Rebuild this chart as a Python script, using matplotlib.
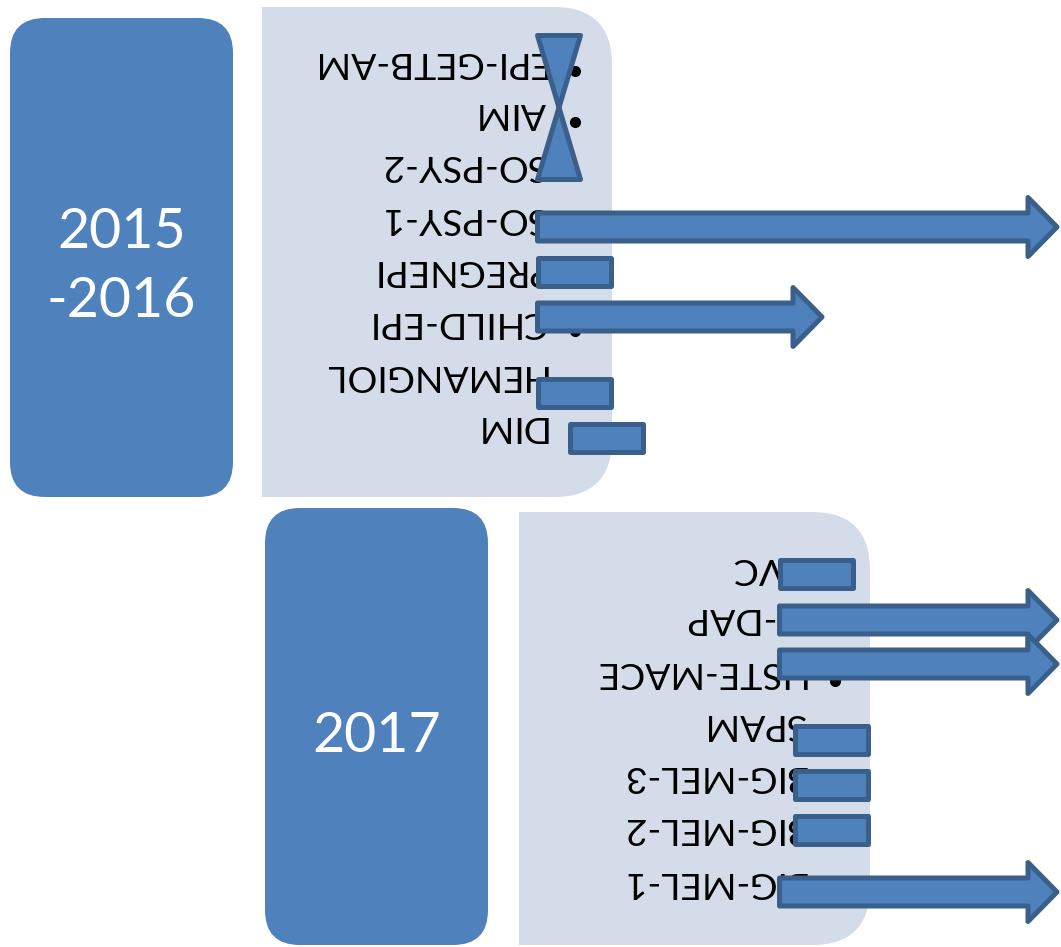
import matplotlib
matplotlib.use("Agg")
import matplotlib.pyplot as plt
from matplotlib.patches import FancyBboxPatch, Rectangle, Polygon

plt.rcParams['font.family'] = ['Lato', 'DejaVu Sans']

# year blocks
year_labels = ["2015\n-2016", "2017"]

# upper block (2015-2016)
upper_labels = ["EPI-GETB-AM", "AIM", "SO-PSY-2", "SO-PSY-1", "PREGNEPI",
                "CHILD-EPI", "HEMANGIOL", "DIM"]
upper_label_y = [66, 117, 169, 222, 274, 326, 379, 430]
upper_kind = ["arrow", "bar", "arrow", "bar", "bar"]
upper_start = [535, 535, 535, 535, 567]
upper_end = [1060, 613, 825, 613, 645]
upper_mark_y = [227, 272, 317, 393, 438]
hourglass_x = [535, 583]
hourglass_y = [33, 182]

# lower block (2017)
lower_labels = ["CVC", "M-DAP", "LISTE-MACE", "SPAM", "BIG-MEL-3",
                "BIG-MEL-2", "BIG-MEL-1"]
lower_label_y = [572, 622, 676, 728, 780, 832, 886]
lower_kind = ["bar", "arrow", "arrow", "bar", "bar", "bar", "arrow"]
lower_start = [777, 777, 777, 792, 792, 792, 777]
lower_end = [855, 1060, 1060, 870, 870, 870, 1060]
lower_mark_y = [574, 620, 664, 740, 785, 830, 892]

DARK = "#4F81BD"
EDGE = "#3A5F8B"
LIGHT = "#D4DCE9"
LW = 3.6

fig = plt.figure(figsize=(10.61, 9.47), dpi=100)
ax = fig.add_axes([0, 0, 1, 1])
ax.set_xlim(0, 1061)
ax.set_ylim(947, 0)
ax.axis("off")


def dark_box(x0, y0, x1, y1, text, ty):
    ax.add_patch(FancyBboxPatch((x0, y0), x1 - x0, y1 - y0,
                                boxstyle="round,pad=0,rounding_size=35",
                                fc=DARK, ec="none", zorder=1))
    lines = text.split("\n")
    n = len(lines)
    for i, line in enumerate(lines):
        base = ty + (i - (n - 1) / 2) * 69 + 20.5
        ax.text((x0 + x1) / 2, base, line, color="white", fontsize=40,
                ha="center", va="baseline", zorder=2)


def light_box(x0, y0, x1, y1):
    ax.add_patch(FancyBboxPatch((x0, y0), x1 - x0, y1 - y0,
                                boxstyle="round,pad=0,rounding_size=58",
                                fc=LIGHT, ec="none", zorder=1))
    ax.add_patch(Rectangle((x0, y0), 80, y1 - y0, fc=LIGHT, ec="none", zorder=1))


def bar(x0, x1, yc, h=33):
    pts = [(x0 + 2.5, yc - h / 2 + 2.5), (x1 - 2.5, yc - h / 2 + 2.5),
           (x1 - 2.5, yc + h / 2 - 2.5), (x0 + 2.5, yc + h / 2 - 2.5)]
    ax.add_patch(Polygon(pts, closed=True, fc=DARK, ec=EDGE, lw=LW,
                         joinstyle="round", zorder=4))


def arrow(x0, x1, yc, hb=16.5, hh=32, hl=29):
    x0 += 2.5
    x1 -= 3
    hb -= 2.5
    hh -= 2.5
    pts = [(x0, yc - hb), (x1 - hl, yc - hb), (x1 - hl, yc - hh), (x1, yc),
           (x1 - hl, yc + hh), (x1 - hl, yc + hb), (x0, yc + hb)]
    ax.add_patch(Polygon(pts, closed=True, fc=DARK, ec=EDGE, lw=LW,
                         joinstyle="round", zorder=4))


def labels(names, ys, xr, xb):
    for name, y in zip(names, ys):
        ax.text(xr, y - 14, name, rotation=180, rotation_mode="anchor",
                ha="left", va="baseline", fontsize=26.8, color="black", zorder=3)
        ax.plot(xb, y + 5, "o", color="black", ms=7, zorder=3)


dark_box(10, 18, 233, 497, year_labels[0], 262)
light_box(262, 7, 612, 497)
dark_box(265, 508, 488, 945, year_labels[1], 731)
light_box(519, 512, 870, 945)

labels(upper_labels, upper_label_y, 546, 575)
labels(lower_labels, lower_label_y, 805, 835)

# hourglass over the first three upper rows
hx0, hx1 = hourglass_x[0] + 2.5, hourglass_x[1] - 2.5
hy0, hy1 = hourglass_y[0] + 2.5, hourglass_y[1] - 2.5
ax.add_patch(Polygon([(hx0, hy0), (hx1, hy0), (hx0, hy1), (hx1, hy1)],
                     closed=True, fc=DARK, ec=EDGE, lw=LW,
                     joinstyle="round", zorder=4))

for kind, s, e, y in zip(upper_kind, upper_start, upper_end, upper_mark_y):
    if kind == "arrow":
        arrow(s, e, y)
    else:
        bar(s, e, y)

for kind, s, e, y in zip(lower_kind, lower_start, lower_end, lower_mark_y):
    if kind == "arrow":
        arrow(s, e, y)
    else:
        bar(s, e, y)

fig.savefig("out.png", dpi=100)
